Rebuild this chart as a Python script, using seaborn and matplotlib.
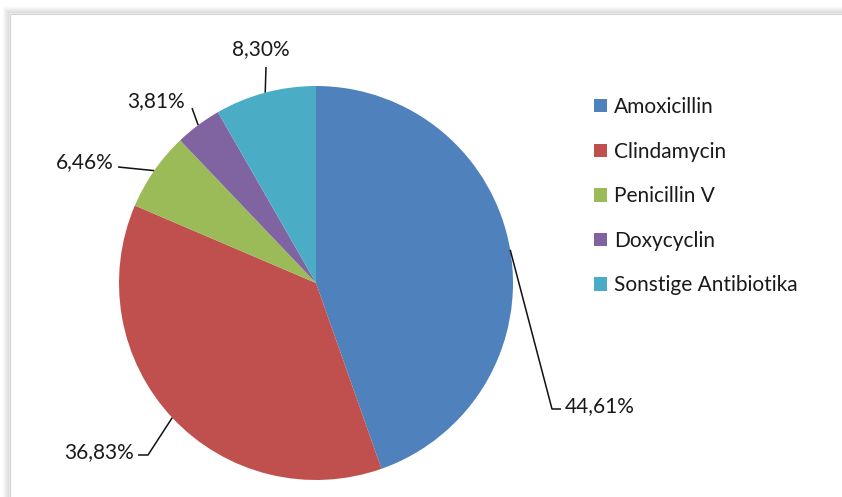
import matplotlib
matplotlib.use("Agg")
import matplotlib.pyplot as plt
import matplotlib.patches as mpatches
import numpy as np
import seaborn as sns

# ---- data ----
categories = ["Amoxicillin", "Clindamycin", "Penicillin V", "Doxycyclin", "Sonstige Antibiotika"]
values = [44.61, 36.83, 6.46, 3.81, 8.30]
value_labels = ["44,61%", "36,83%", "6,46%", "3,81%", "8,30%"]
colors = ["#4F81BD", "#C0504D", "#9BBB59", "#8064A2", "#4BACC6"]

sns.set_theme(style="white")
plt.rcParams['font.family'] = ['Lato', 'DejaVu Sans']

W, H = 842, 497
fig = plt.figure(figsize=(W / 100, H / 100), dpi=100)
fig.patch.set_facecolor("white")

ax = fig.add_axes([0, 0, 1, 1])
ax.set_facecolor("none")

cx, cy, r = 316, H - 283, 197
wedges, _ = ax.pie(values, colors=colors, startangle=90, counterclock=False,
                   center=(cx, cy), radius=r, wedgeprops=dict(linewidth=0, zorder=3))
ax.set_xlim(0, W)
ax.set_ylim(0, H)
ax.set_aspect("equal")
ax.axis("off")

# frame with soft shadow (pixel coords, y up)
fx0, ftop = 10, H - 14
for i, a in enumerate([0.025, 0.035, 0.05, 0.065, 0.085, 0.11]):
    off = 6 - i
    ax.add_patch(mpatches.Rectangle((fx0 - off, -50), W + 100, ftop + off + 50,
                                    facecolor="none", edgecolor=(0.35, 0.35, 0.35, a),
                                    linewidth=1.6, zorder=0, clip_on=False))
ax.add_patch(mpatches.Rectangle((fx0, -50), W + 100, ftop + 50, facecolor="white",
                                edgecolor="#d4d4d4", linewidth=0.8, zorder=1, clip_on=False))

# label layout (pixel coords, y downward): elbow/end point of leader, text pos, alignment
layout = [
    dict(pts=[(552, 409), (561, 409)], text=(565, 406), ha="left"),
    dict(pts=[(148, 455), (138, 455)], text=(134, 452), ha="right"),
    dict(pts=[(118, 167)], text=(114, 162), ha="right"),
    dict(pts=[(192, 108)], text=(156, 101), ha="center"),
    dict(pts=[(266, 67)], text=(261, 49), ha="center"),
]
FS = 15
for w, lab, lay in zip(wedges, value_labels, layout):
    mid = np.deg2rad((w.theta1 + w.theta2) / 2)
    ex, ey = cx + r * np.cos(mid), cy + r * np.sin(mid)
    xs = [ex] + [p[0] for p in lay["pts"]]
    ys = [ey] + [H - p[1] for p in lay["pts"]]
    ax.plot(xs, ys, color="#111111", linewidth=1.1, solid_capstyle="butt", zorder=4)
    ax.text(lay["text"][0], H - lay["text"][1], lab, ha=lay["ha"], va="center",
            fontsize=FS, color="#1a1a1a", zorder=5)

leg = ax.legend(wedges, categories, loc="upper left", bbox_to_anchor=(594 / W, 1 - 97 / H),
                frameon=False, fontsize=FS, labelspacing=1.18, handlelength=0.62,
                handleheight=0.62, handletextpad=0.33, borderaxespad=0, borderpad=0)
leg.set_zorder(6)
for t in leg.get_texts():
    t.set_color("#1a1a1a")

fig.savefig("out.png", dpi=100, facecolor="white")
